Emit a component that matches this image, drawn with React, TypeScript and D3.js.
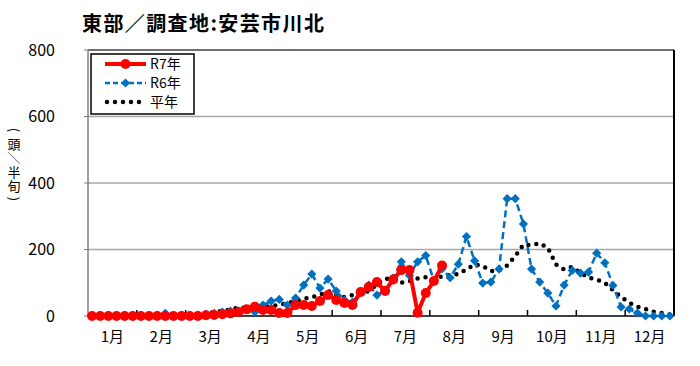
import * as d3 from 'd3';

const months = ['1月', '2月', '3月', '4月', '5月', '6月', '7月', '8月', '9月', '10月', '11月', '12月'];
const yTicks = [0, 200, 400, 600, 800];
const yLabelChars = ['(', '頭', '／', '半', '旬', ')'];

// 半旬 values, 6 per month
const r7 = [
  0, 0, 0, 0, 0, 0,
  0, 0, 0, 0, 0, 0,
  0, 0, 2, 3, 5, 8,
  12, 20, 28, 18, 18, 9,
  9, 33, 33, 30, 45, 63,
  48, 39, 33, 72, 87, 102,
  75, 110, 138, 138, 10, 69,
  105, 152,
];

const r6 = [
  0, 0, 2, 0, 2, 0,
  2, 0, 3, 8, 0, 2,
  2, 3, 5, 8, 12, 15,
  15, 20, 12, 33, 45, 50,
  33, 54, 93, 126, 84, 111,
  75, 48, 42, 72, 93, 63,
  78, 114, 163, 122, 163, 182,
  106, 142, 115, 156, 239, 166,
  99, 102, 141, 353, 353, 277,
  141, 102, 69, 30, 93, 137,
  129, 132, 189, 160, 92, 27,
  21, 9, 0, 0, 0, 0,
];

const avg = [
  2, 2, 2, 2, 2, 2,
  2, 2, 3, 3, 3, 3,
  3, 5, 8, 12, 15, 20,
  25, 25, 28, 27, 30, 33,
  39, 45, 51, 57, 63, 75,
  63, 57, 63, 69, 75, 95,
  112, 112, 100, 105, 113, 117,
  110, 120, 123, 126, 140, 155,
  150, 135, 137, 152, 180, 215,
  213, 219, 205, 155, 140, 148,
  130, 115, 110, 100, 78, 57,
  40, 28, 21, 13, 9, 4,
];

const legendItems = ['R7年', 'R6年', '平年'];

const W = 700;
const H = 366;
const left = 88;
const right = 674;
const top = 50;
const bottom = 316;
const font = '"Noto Sans CJK JP", "Noto Sans", sans-serif';

export default function App() {
  const idx = d3.range(72);
  const x = d3.scalePoint<number>().domain(idx).range([left, right]).padding(0.5);
  const xm = d3.scaleBand<string>().domain(months).range([left, right]);
  const y = d3.scaleLinear().domain([0, 800]).range([bottom, top]);

  const line = d3.line<number>().x((_, i) => x(i)!).y(d => y(d));
  const diamond = 'M0,-4.6L4.6,0L0,4.6L-4.6,0Z';

  return (
    <svg width={W} height={H} style={{ position: 'absolute', left: 0, top: 0, background: '#fff' }}>
      <text x={82} y={31} fontFamily={font} fontSize={20} fontWeight="bold" letterSpacing={1.4} fill="#000">
        東部／調査地:安芸市川北
      </text>

      {yTicks.slice(1).map(t => (
        <line key={t} x1={left} x2={right} y1={y(t)} y2={y(t)} stroke="#a6a6a6" strokeWidth={1.5} />
      ))}
      <line x1={left} x2={right} y1={top} y2={top} stroke="#595959" strokeWidth={1.5} />
      <line x1={right} x2={right} y1={top} y2={bottom} stroke="#000" strokeWidth={2} />
      <line x1={left} x2={left} y1={top} y2={bottom} stroke="#808080" strokeWidth={1.5} />
      {yTicks.map(t => (
        <g key={t}>
          <line x1={left - 4} x2={left} y1={y(t)} y2={y(t)} stroke="#808080" strokeWidth={1} />
          <text x={55} y={y(t)} dy="0.36em" textAnchor="end" fontFamily={font} fontSize={16} fill="#000">
            {t}
          </text>
        </g>
      ))}

      {/* vertical unit label, one glyph per line; brackets and slash turned */}
      {yLabelChars.map((c, i) => {
        const turn = c === '(' || c === ')' || c === '／';
        const cy = [130, 144, 158, 172, 186, 199][i];
        return (
          <text
            key={i}
            x={0}
            y={0}
            transform={`translate(14,${cy})${turn ? ' rotate(90)' : ''}`}
            textAnchor="middle"
            dy="0.36em"
            fontFamily={font}
            fontSize={13}
            fill="#000"
          >
            {c}
          </text>
        );
      })}

      {/* x axis */}
      <line x1={left} x2={right} y1={bottom} y2={bottom} stroke="#000" strokeWidth={1.5} />
      {months.map(m => (
        <g key={m}>
          <line x1={xm(m)! + xm.bandwidth()} x2={xm(m)! + xm.bandwidth()} y1={bottom} y2={bottom - 6} stroke="#000" strokeWidth={1.5} />
          <text x={xm(m)! + xm.bandwidth() / 2} y={342} textAnchor="middle" fontFamily={font} fontSize={15} fill="#000">
            {m}
          </text>
        </g>
      ))}

      {/* 平年 */}
      <path d={line(avg)!} fill="none" stroke="#000" strokeWidth={4.5} strokeLinecap="round" strokeDasharray="0 8" />

      {/* R6 */}
      <path d={line(r6)!} fill="none" stroke="#0070c0" strokeWidth={2.5} strokeDasharray="7 4" />
      {r6.map((v, i) => (
        <path key={i} d={diamond} transform={`translate(${x(i)},${y(v)})`} fill="#0070c0" />
      ))}

      {/* R7 */}
      <path d={line(r7)!} fill="none" stroke="#ff0000" strokeWidth={4} strokeLinejoin="round" />
      {r7.map((v, i) => (
        <circle key={i} cx={x(i)} cy={y(v)} r={5} fill="#ff0000" />
      ))}

      {/* legend */}
      <rect x={91} y={54} width={103} height={60} fill="#fff" stroke="#000" strokeWidth={1.5} />
      {legendItems.map((name, i) => {
        const ly = 64 + i * 19;
        return (
          <g key={name}>
            {i === 0 && (
              <>
                <line x1={105} x2={146} y1={ly} y2={ly} stroke="#ff0000" strokeWidth={4} />
                <circle cx={125.5} cy={ly} r={5} fill="#ff0000" />
              </>
            )}
            {i === 1 && (
              <>
                <line x1={105} x2={146} y1={ly} y2={ly} stroke="#0070c0" strokeWidth={2.5} strokeDasharray="5 3" />
                <path d={diamond} transform={`translate(125.5,${ly})`} fill="#0070c0" />
              </>
            )}
            {i === 2 && (
              <line x1={107} x2={146} y1={ly} y2={ly} stroke="#000" strokeWidth={4.5} strokeLinecap="round" strokeDasharray="0 8" />
            )}
            <text x={150} y={ly} dy="0.36em" fontFamily={font} fontSize={14} fill="#000">
              {name}
            </text>
          </g>
        );
      })}
    </svg>
  );
}
